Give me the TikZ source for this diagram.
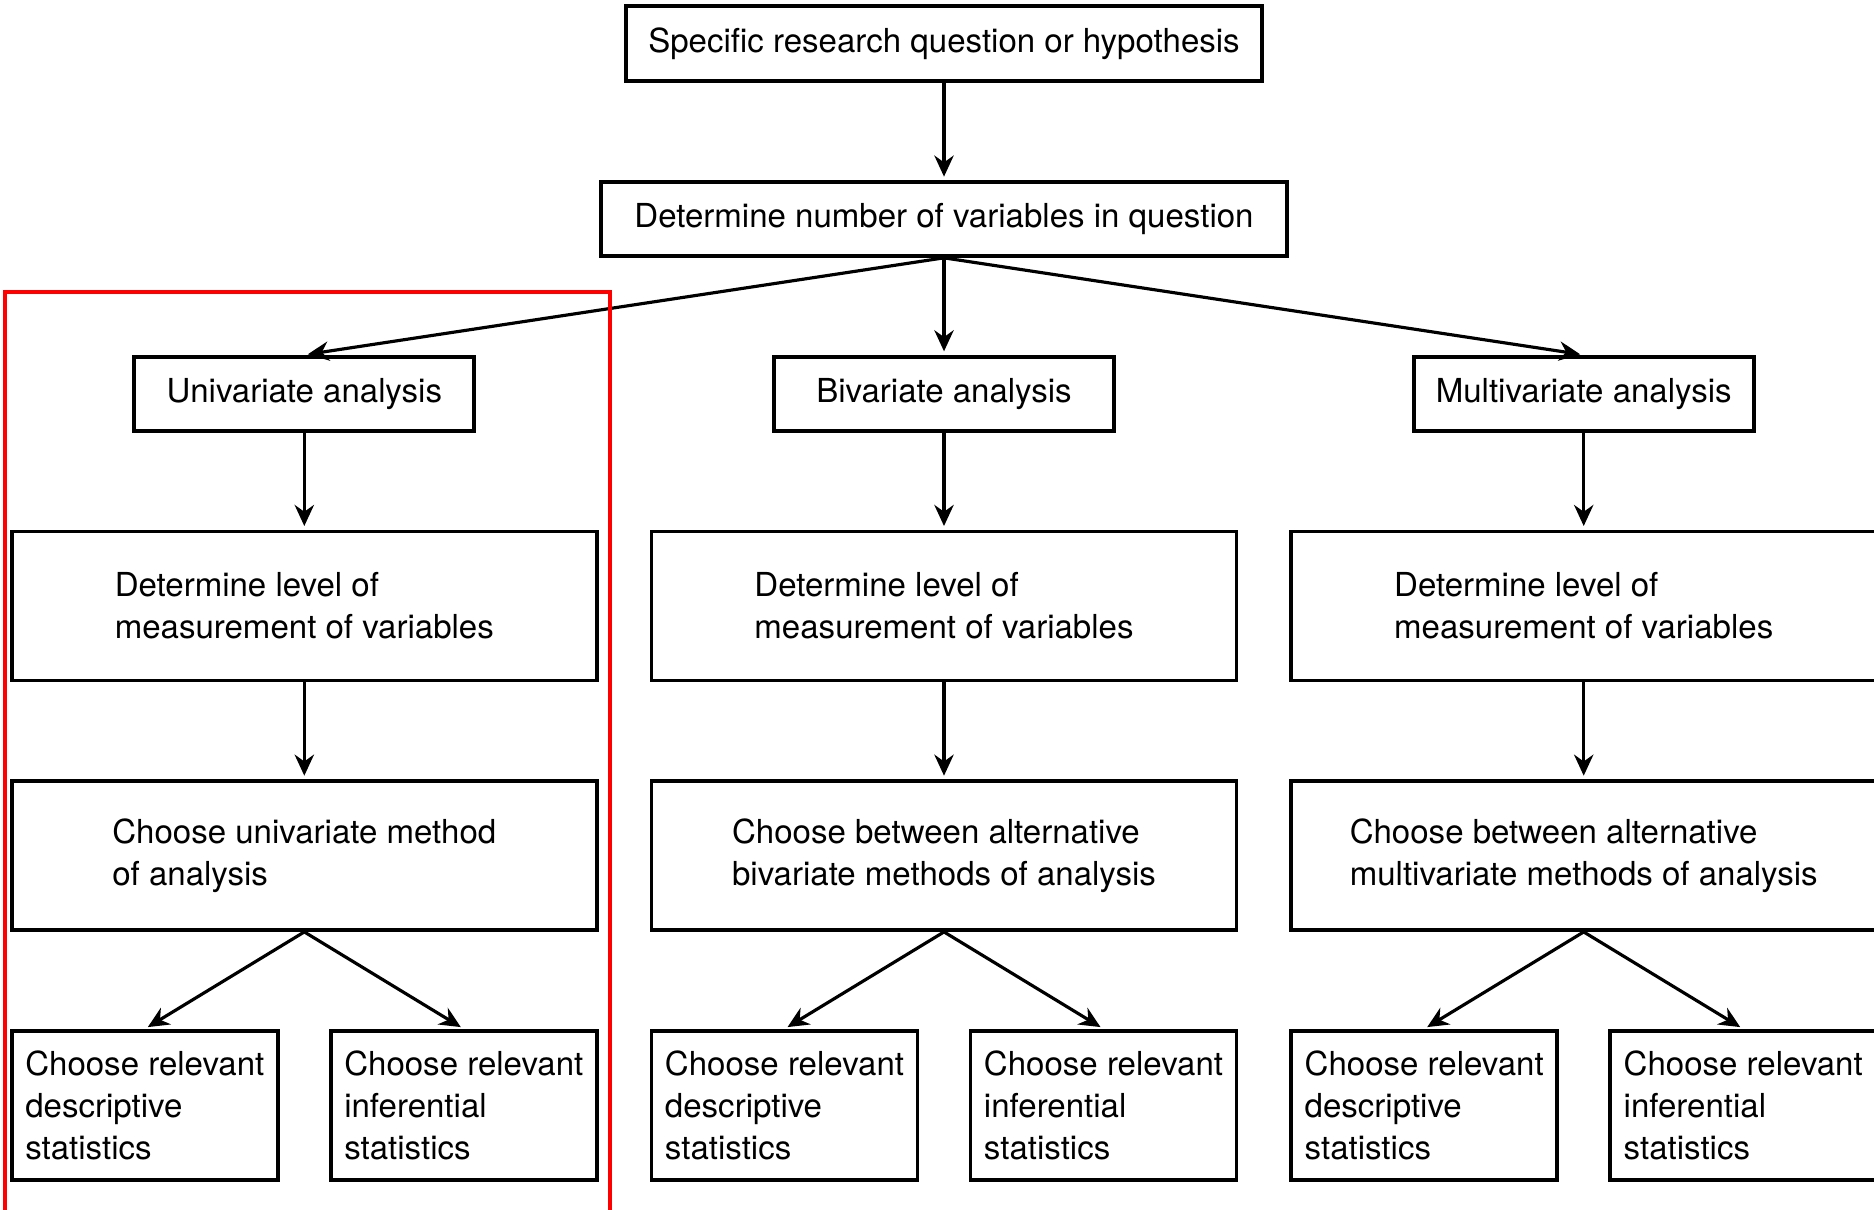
\documentclass[tikz,border=0pt]{standalone}
\usepackage{fontspec}
\setmainfont{TeX Gyre Heros}
\usetikzlibrary{arrows.meta, positioning}

\begin{document}
\begin{tikzpicture}[
  component/.style={rectangle, draw, line width=1.05pt, minimum height=0.74cm, align=center, font=\fontsize{9.4}{12}\selectfont},
  stage/.style={component, minimum width=5.85cm, minimum height=1.49cm, align=left},
  stats/.style={component, minimum width=2.66cm, minimum height=1.49cm, align=left},
  conn/.style={draw, line width=0.9pt, -{Stealth[length=6pt, width=5.5pt]}, shorten >=1pt},
  node distance=0.97cm
]

\useasboundingbox (0,0) rectangle (18.74,-12.10);

% Nodes
\node[component, minimum width=6.86cm] (N) at (9.44,-2.19) {Determine number of variables in question};
\node[component, minimum width=6.36cm, minimum height=0.75cm, above=of N] (Q) {Specific research question or hypothesis};

% Kinds of analysis
\node[component, minimum width=3.4cm, below=of N] (Bi) {Bivariate analysis};
\node[component, minimum width=3.4cm, left=2.96cm of Bi] (Uni) {Univariate analysis};
\node[component, minimum width=3.4cm, right=2.96cm of Bi] (Multi) {Multivariate analysis};

% Level of measurement
\node[stage, below=of Uni] (L1) {Determine level of\\measurement of variables};
\node[stage, below=of Bi] (L2) {Determine level of\\measurement of variables};
\node[stage, below=of Multi] (L3) {Determine level of\\measurement of variables};

% Methods
\node[stage, below=of L1] (M1) {Choose univariate method\\of analysis};
\node[stage, below=of L2] (M2) {Choose between alternative\\bivariate methods of analysis};
\node[stage, below=of L3] (M3) {Choose between alternative\\multivariate methods of analysis};

% Statistics in pairs
\node[stats, below right=0.97cm and 0cm of M1.south west] (D1) {Choose relevant\\descriptive\\statistics};
\node[stats, below left=0.97cm and 0cm of M1.south east] (I1) {Choose relevant\\inferential\\statistics};
\node[stats, below right=0.97cm and 0cm of M2.south west] (D2) {Choose relevant\\descriptive\\statistics};
\node[stats, below left=0.97cm and 0cm of M2.south east] (I2) {Choose relevant\\inferential\\statistics};
\node[stats, below right=0.97cm and 0cm of M3.south west] (D3) {Choose relevant\\descriptive\\statistics};
\node[stats, below left=0.97cm and 0cm of M3.south east] (I3) {Choose relevant\\inferential\\statistics};

% Connections
\draw[conn] (Q) -- (N);
\draw[conn] (N.south) -- (Uni.north);
\draw[conn] (N.south) -- (Bi.north);
\draw[conn] (N.south) -- (Multi.north);

\draw[conn] (Uni) -- (L1);
\draw[conn] (Bi) -- (L2);
\draw[conn] (Multi) -- (L3);

\draw[conn] (L1) -- (M1);
\draw[conn] (L2) -- (M2);
\draw[conn] (L3) -- (M3);

\draw[conn] (M1.south) -- (D1.north);
\draw[conn] (M1.south) -- (I1.north);
\draw[conn] (M2.south) -- (D2.north);
\draw[conn] (M2.south) -- (I2.north);
\draw[conn] (M3.south) -- (D3.north);
\draw[conn] (M3.south) -- (I3.north);

% Highlight frame
\draw[red, line width=1.1pt] (0.05,-2.92) rectangle (6.10,-12.5);

\end{tikzpicture}
\end{document}
